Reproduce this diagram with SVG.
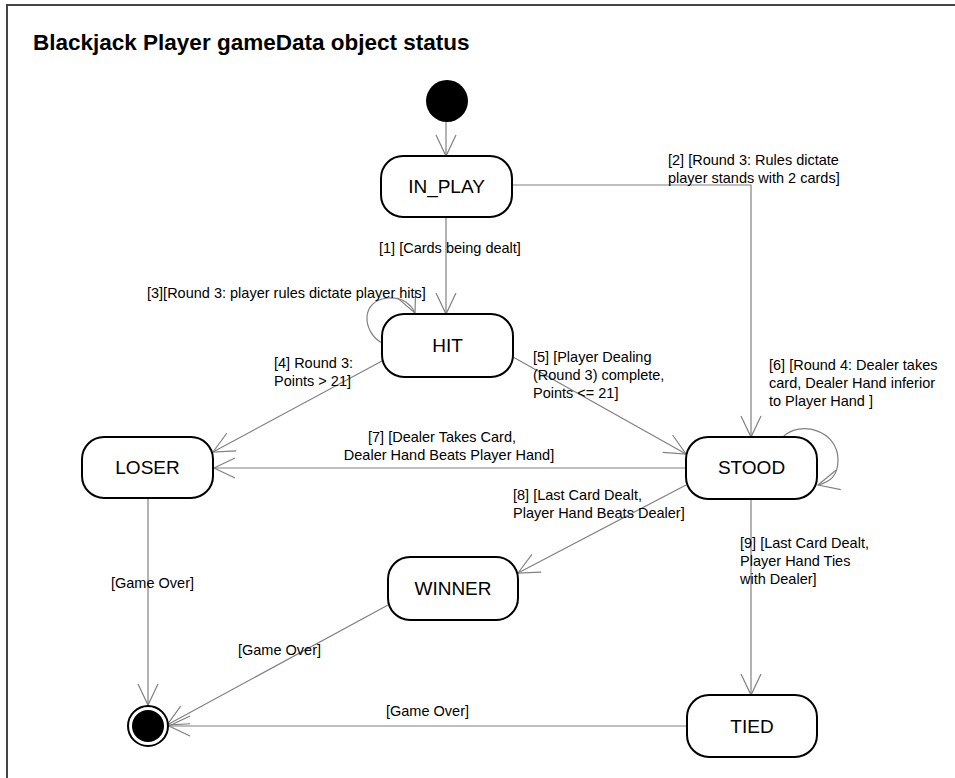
<svg xmlns="http://www.w3.org/2000/svg" width="955" height="778" viewBox="0 0 955 778">
<style>
.node rect{fill:#fff;stroke:#000;stroke-width:2}
.nt{font-family:"Liberation Sans",Arial,sans-serif;font-size:19px;fill:#000;text-anchor:middle}
.lbl{font-family:"Liberation Sans",Arial,sans-serif;font-size:14.5px;fill:#000}
.edge{fill:none;stroke:#808080;stroke-width:1.2;marker-end:url(#arr)}
</style>
<defs>
<marker id="arr" markerUnits="userSpaceOnUse" viewBox="-23 -12 25 24" markerWidth="25" markerHeight="24" refX="0" refY="0" orient="auto">
<path d="M-21,-10 L0,0 L-21,10" fill="none" stroke="#808080" stroke-width="1.2"/>
</marker>
</defs>
<rect width="955" height="778" fill="#fff"/>
<path d="M7,778 L7,5 L955,5" fill="none" stroke="#444" stroke-width="2"/>
<text x="33" y="50" font-family="'Liberation Sans',Arial,sans-serif" font-size="22.5" font-weight="bold">Blackjack Player gameData object status</text>

<g id="connectors">
<path class="edge" d="M446,122 L446,156"/>
<path class="edge" d="M446,217 L446,314"/>
<path class="edge" d="M512,185 L751,185 L751,437"/>
<path class="edge" d="M382,343 C362,332 360,300 388,298 C402,297 411,304 415,313"/>
<path class="edge" d="M382,361 L213,452"/>
<path class="edge" d="M513,357 L686,454"/>
<path class="edge" d="M783,437 C800,420 838,430 838,460 C838,476 830,482 818,485"/>
<path class="edge" d="M686,468 L214,468"/>
<path class="edge" d="M686,485 L518,573"/>
<path class="edge" d="M751,499 L751,695"/>
<path class="edge" d="M148,498 L148,705"/>
<path class="edge" d="M388,605 L167,725"/>
<path class="edge" d="M687,726 L169,726"/>
</g>

<g id="labels">
<text class="lbl" x="379" y="253">[1] [Cards being dealt]</text>
<text class="lbl" x="668" y="165">[2] [Round 3: Rules dictate</text>
<text class="lbl" x="668" y="183">player stands with 2 cards]</text>
<text class="lbl" x="147" y="298">[3][Round 3: player rules dictate player hits]</text>
<text class="lbl" x="274" y="368">[4] Round 3:</text>
<text class="lbl" x="274" y="386">Points &gt; 21]</text>
<text class="lbl" x="533" y="362">[5] [Player Dealing</text>
<text class="lbl" x="533" y="380">(Round 3) complete,</text>
<text class="lbl" x="533" y="398">Points &lt;= 21]</text>
<text class="lbl" x="769" y="370">[6] [Round 4: Dealer takes</text>
<text class="lbl" x="769" y="388">card, Dealer Hand inferior</text>
<text class="lbl" x="769" y="406">to Player Hand ]</text>
<text class="lbl" x="442" y="442" text-anchor="middle">[7] [Dealer Takes Card,</text>
<text class="lbl" x="449" y="460" text-anchor="middle">Dealer Hand Beats Player Hand]</text>
<text class="lbl" x="513" y="500">[8] [Last Card Dealt,</text>
<text class="lbl" x="513" y="518">Player Hand Beats Dealer]</text>
<text class="lbl" x="740" y="548">[9] [Last Card Dealt,</text>
<text class="lbl" x="740" y="566">Player Hand Ties</text>
<text class="lbl" x="740" y="584">with Dealer]</text>
<text class="lbl" x="111" y="588">[Game Over]</text>
<text class="lbl" x="238" y="655">[Game Over]</text>
<text class="lbl" x="386" y="716">[Game Over]</text>
</g>

<g id="initial"><circle cx="447" cy="101" r="21" fill="#000"/></g>
<g id="final"><circle cx="148" cy="726" r="20" fill="#fff" stroke="#000" stroke-width="2"/><circle cx="148" cy="726" r="16" fill="#000"/></g>
<g id="in_play" class="node"><rect x="381" y="156" width="131" height="61" rx="22"/><text class="nt" x="446.5" y="193">IN_PLAY</text></g>
<g id="hit" class="node"><rect x="382" y="314" width="131" height="63" rx="22"/><text class="nt" x="447.5" y="352">HIT</text></g>
<g id="loser" class="node"><rect x="82" y="437" width="131" height="61" rx="22"/><text class="nt" x="147.5" y="474">LOSER</text></g>
<g id="stood" class="node"><rect x="686" y="437" width="131" height="62" rx="22"/><text class="nt" x="751.5" y="474">STOOD</text></g>
<g id="winner" class="node"><rect x="388" y="557" width="130" height="63" rx="22"/><text class="nt" x="453" y="595">WINNER</text></g>
<g id="tied" class="node"><rect x="687" y="695" width="130" height="62" rx="22"/><text class="nt" x="752" y="733">TIED</text></g>
</svg>
